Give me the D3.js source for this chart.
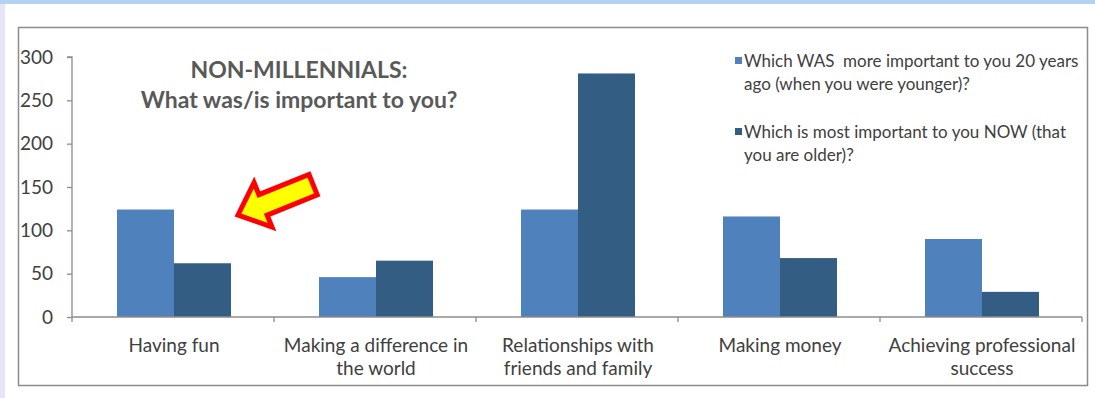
<!DOCTYPE html>
<html>
<head>
<meta charset="utf-8">
<script src="https://cdn.jsdelivr.net/npm/d3@7"></script>
<style>
  html, body { margin: 0; padding: 0; background: #fff; }
  svg { display: block; font-family: Lato, "Open Sans", sans-serif; }
</style>
</head>
<body>
<svg id="chart" width="1095" height="398"></svg>
<script>
// ── Data ──
const categories = [
  ["Having fun"],
  ["Making a difference in", "the world"],
  ["Relationships with", "friends and family"],
  ["Making money"],
  ["Achieving professional", "success"]
];
const seriesNames = [
  ["Which WAS  more important to you 20 years", "ago (when you were younger)?"],
  ["Which is most important to you NOW (that", "you are older)?"]
];
const wasValues = [124, 46, 124, 116, 90];
const nowValues = [62, 65, 281, 68, 29];
const yTicks = [0, 50, 100, 150, 200, 250, 300];
const titleLines = ["NON-MILLENNIALS:", "What was/is important to you?"];

const colors = ["#4f81bd", "#335d82"];
const W = 1095, H = 398;
const plot = { left: 72, right: 1082, top: 57, bottom: 317 };

const svg = d3.select("#chart");

// page frame: light blue strip on top, lavender strip on the left
svg.append("rect").attr("x", 0).attr("y", 0).attr("width", W).attr("height", H).attr("fill", "#fff");
svg.append("rect").attr("x", 0).attr("y", 0).attr("width", W).attr("height", 4).attr("fill", "#b4d0f2");
svg.append("rect").attr("x", 0).attr("y", 4).attr("width", 5).attr("height", H - 4).attr("fill", "#e6e4f6");

// chart box
svg.append("rect").attr("x", 18.5).attr("y", 27.5).attr("width", 1069).attr("height", 358)
  .attr("fill", "#fff").attr("stroke", "#8c8c8c").attr("stroke-width", 1.5);

const x0 = d3.scaleBand().domain(d3.range(categories.length)).range([plot.left, plot.right]);
const x1 = d3.scaleBand().domain([0, 1]).range([45, 159]);
const y = d3.scaleLinear().domain([0, 300]).range([plot.bottom, plot.top]);

// bars
const rows = categories.map((c, i) => ({ i, vals: [wasValues[i], nowValues[i]] }));
const grp = svg.selectAll(".grp").data(rows).join("g")
  .attr("transform", d => `translate(${x0(d.i)},0)`);
grp.selectAll("rect").data(d => d.vals.map((v, s) => ({ v, s }))).join("rect")
  .attr("x", d => x1(d.s)).attr("width", x1.bandwidth())
  .attr("y", d => y(d.v)).attr("height", d => y(0) - y(d.v))
  .attr("fill", d => colors[d.s]);

// y axis
const yAxis = svg.append("g").attr("transform", `translate(${plot.left},0)`)
  .call(d3.axisLeft(y).tickValues(yTicks).tickSize(5).tickPadding(14));
yAxis.select(".domain").attr("stroke", "#8c8c8c").attr("stroke-width", 1.3).attr("d", `M-5,${plot.top}H0V${plot.bottom}`);
yAxis.selectAll(".tick line").attr("stroke", "#8c8c8c").attr("stroke-width", 1.3);
yAxis.selectAll(".tick text").attr("font-size", 19).attr("fill", "#404040").attr("font-family", "Lato, sans-serif");

// x axis
const xAxis = svg.append("g").attr("transform", `translate(0,${plot.bottom})`);
xAxis.append("line").attr("x1", plot.left).attr("x2", plot.right)
  .attr("stroke", "#8c8c8c").attr("stroke-width", 1.3);
const bounds = d3.range(categories.length + 1).map(i => i < categories.length ? x0(i) : plot.right);
xAxis.selectAll(".xt").data(bounds).join("line")
  .attr("x1", d => d).attr("x2", d => d).attr("y1", 0).attr("y2", 5)
  .attr("stroke", "#8c8c8c").attr("stroke-width", 1.3);
const xl = xAxis.selectAll(".xl").data(categories).join("text")
  .attr("text-anchor", "middle").attr("font-size", 19).attr("fill", "#404040")
  .attr("transform", (d, i) => `translate(${x0(i) + x0.bandwidth() / 2 + 1},0)`);
xl.selectAll("tspan").data(d => d).join("tspan")
  .attr("x", 0).attr("y", (d, j) => 35 + j * 23).text(d => d);

// title
svg.append("text").attr("text-anchor", "middle")
  .attr("font-size", 23).attr("font-weight", 700).attr("fill", "#595959")
  .selectAll("tspan").data(titleLines).join("tspan")
  .attr("x", 299).attr("y", (d, i) => 78 + i * 30).text(d => d);

// legend
const leg = svg.selectAll(".leg").data(seriesNames).join("g")
  .attr("transform", (d, i) => `translate(735,${61 + i * 71})`);
leg.append("rect").attr("x", 0).attr("y", -4).attr("width", 7).attr("height", 7)
  .attr("fill", (d, i) => colors[i]);
leg.append("text").attr("font-size", 17).attr("fill", "#404040")
  .style("white-space", "pre")
  .selectAll("tspan").data(d => d).join("tspan")
  .attr("x", 9).attr("y", (d, j) => 6 + j * 23).text(d => d);

// arrow annotation
const arrow = svg.append("g").attr("transform", "translate(238,215) rotate(-22)");
arrow.append("path")
  .attr("d", "M0,0 L27,-24 L27,-11 L81,-11 L81,11 L27,11 L27,24 Z")
  .attr("fill", "#ffff00").attr("stroke", "#ff0000").attr("stroke-width", 5)
  .attr("stroke-linejoin", "miter");
</script>
</body>
</html>
